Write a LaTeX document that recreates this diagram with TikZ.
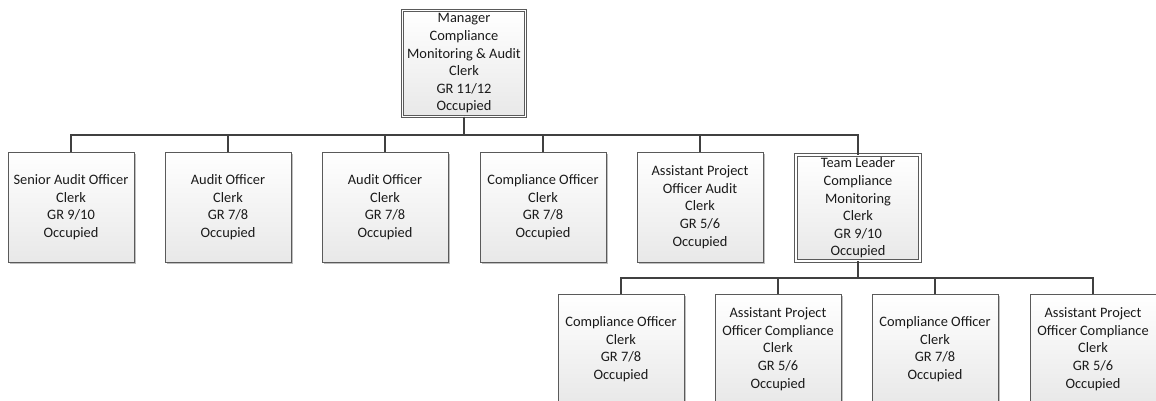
\documentclass[tikz,border=0pt]{standalone}
\usepackage{fontspec}
\setmainfont{Carlito}
\usetikzlibrary{shadows}
\definecolor{boxline}{HTML}{5A5A5A}
\definecolor{connline}{HTML}{404040}
\definecolor{boxtext}{HTML}{1A1A1A}
\tikzset{
  orgbox/.style={draw=boxline, line width=1pt, top color=white, bottom color=black!9,
    minimum width=126pt, minimum height=110pt, inner sep=1pt, align=center,
    text=boxtext, font=\fontsize{14.4}{17.6}\selectfont,
    drop shadow={shadow xshift=1.5pt, shadow yshift=-1.5pt, opacity=0.25, fill=black}},
  headbox/.style={orgbox, double=white, double distance=1.6pt, line width=0.9pt},
  conn/.style={draw=connline, line width=1.4pt}
}
\begin{document}
\begin{tikzpicture}[x=1pt,y=1pt]
\useasboundingbox[fill=white] (0,0) rectangle (1156,-400);

% top manager
\node[headbox, minimum width=123pt, minimum height=106pt] (mgr) at (464,-63.5)
  {Manager\\Compliance\\Monitoring \& Audit\\Clerk\\GR 11/12\\Occupied};

% second level
\node[orgbox] (sao) at (71,-207) {Senior Audit Officer\\Clerk\\GR 9/10\\Occupied};
\node[orgbox] (ao1) at (228,-207) {Audit Officer\\Clerk\\GR 7/8\\Occupied};
\node[orgbox] (ao2) at (385,-207) {Audit Officer\\Clerk\\GR 7/8\\Occupied};
\node[orgbox] (co1) at (543,-207) {Compliance Officer\\Clerk\\GR 7/8\\Occupied};
\node[orgbox] (apa) at (700,-207) {Assistant Project\\Officer Audit\\Clerk\\GR 5/6\\Occupied};
\node[headbox, minimum width=124pt, minimum height=106pt] (tl) at (858,-208)
  {Team Leader\\Compliance\\Monitoring\\Clerk\\GR 9/10\\Occupied};

% third level
\node[orgbox] (co2) at (621,-349) {Compliance Officer\\Clerk\\GR 7/8\\Occupied};
\node[orgbox] (apc1) at (778,-349) {Assistant Project\\Officer Compliance\\Clerk\\GR 5/6\\Occupied};
\node[orgbox] (co3) at (935,-349) {Compliance Officer\\Clerk\\GR 7/8\\Occupied};
\node[orgbox] (apc2) at (1093,-349) {Assistant Project\\Officer Compliance\\Clerk\\GR 5/6\\Occupied};

% bus levels
\coordinate (busA) at (0,-135);
\coordinate (busB) at (0,-278);

\foreach \c in {sao,ao1,ao2,co1,apa,tl}
  \draw[conn] (mgr.south) -- (mgr.south |- busA) -| (\c.north);
\foreach \c in {co2,apc1,co3,apc2}
  \draw[conn] (tl.south) -- (tl.south |- busB) -| (\c.north);
\end{tikzpicture}
\end{document}
